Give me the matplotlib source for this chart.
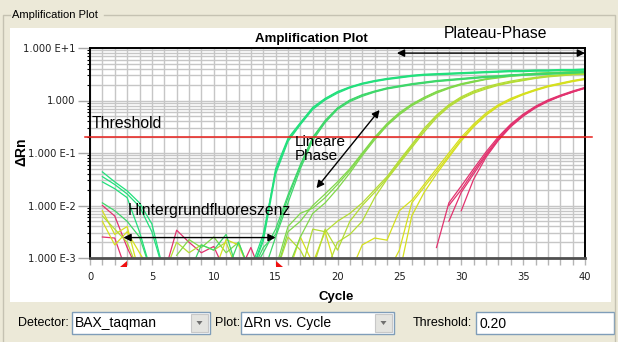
import numpy as np
import matplotlib
matplotlib.use('Agg')
import matplotlib.pyplot as plt
from matplotlib.patches import Rectangle, Polygon
from matplotlib.ticker import MultipleLocator, LogLocator, NullFormatter
from matplotlib.transforms import blended_transform_factory

plt.rcParams['font.family'] = ['Liberation Sans', 'DejaVu Sans']

N = None
cycle = np.arange(1, 41)

# log10(delta Rn) per well (None = not drawn)
a1 = [-1.36, -1.55, -1.72, -1.95, -2.35, -3.3] + [N] * 6 + [
    -3.3, -2.62, -1.3, -0.72, -0.42, -0.13, 0.04, 0.17, 0.26, 0.33, 0.38, 0.42, 0.45, 0.48,
    0.5, 0.51, 0.52, 0.53, 0.54, 0.55, 0.56, 0.57, 0.57, 0.58, 0.58, 0.59, 0.59, 0.6]
a2 = [-1.45, -1.6, -1.78, -2.02, -2.5, -3.3] + [N] * 6 + [
    -3.2, -2.55, -1.35, -0.75, -0.44, -0.15, 0.03, 0.16, 0.25, 0.32, 0.37, 0.41, 0.44, 0.47,
    0.49, 0.5, 0.51, 0.52, 0.53, 0.54, 0.55, 0.56, 0.56, 0.57, 0.57, 0.58, 0.58, 0.59]
a3 = [-1.55, -1.68, -1.85, -2.5, -3.3] + [N] * 7 + [
    -3.3, -2.68, -1.4, -0.78, -0.46, -0.17, 0.01, 0.14, 0.24, 0.31, 0.36, 0.4, 0.43, 0.46,
    0.48, 0.49, 0.5, 0.51, 0.52, 0.53, 0.54, 0.55, 0.55, 0.56, 0.56, 0.57, 0.57, 0.58]

b1 = [-1.95, -2.1, -2.3, -2.6, -3.3] + [N] * 5 + [
    -3.3, -2.7, -3.3, -2.8, -2.55, -1.85, -1.25, -0.72, -0.4, -0.15, 0.0, 0.1, 0.17, 0.23,
    0.27, 0.31, 0.34, 0.37, 0.39, 0.41, 0.43, 0.45, 0.46, 0.48, 0.49, 0.5, 0.51, 0.52, 0.53, 0.54]
b2 = [N] * 7 + [-3.3, -2.75, -2.85, -2.55, -3.3, -3.3,
    -2.9, -2.45, -1.8, -1.22, -0.7, -0.38, -0.14, 0.01, 0.11, 0.18, 0.24, 0.28, 0.32, 0.35,
    0.38, 0.4, 0.42, 0.44, 0.46, 0.47, 0.49, 0.5, 0.51, 0.52, 0.53, 0.54, 0.55]
b3 = [N] * 13 + [
    -3.3, -2.6, -1.95, -1.3, -0.76, -0.42, -0.17, -0.02, 0.08, 0.16, 0.22, 0.26, 0.3, 0.33,
    0.36, 0.38, 0.4, 0.42, 0.44, 0.45, 0.47, 0.48, 0.49, 0.5, 0.51, 0.52, 0.53]

c1 = [N] * 14 + [
    -3.2, -2.4, -2.15, -2.05, -1.85, -1.6, -1.33, -1.02, -0.72, -0.46, -0.25, -0.08, 0.05,
    0.16, 0.24, 0.31, 0.36, 0.41, 0.44, 0.47, 0.49, 0.51, 0.52, 0.53, 0.54, 0.55]
c2 = [N] * 14 + [
    -3.3, -2.5, -2.3, -2.0, -1.78, -1.55, -1.3, -1.0, -0.7, -0.44, -0.23, -0.07, 0.06,
    0.17, 0.25, 0.32, 0.37, 0.41, 0.45, 0.48, 0.5, 0.52, 0.53, 0.54, 0.55, 0.56]
c3 = [N] * 15 + [
    -3.2, -2.6, -2.15, -1.95, -1.68, -1.38, -1.05, -0.75, -0.48, -0.27, -0.1, 0.03, 0.14,
    0.23, 0.3, 0.35, 0.4, 0.43, 0.46, 0.48, 0.5, 0.51, 0.52, 0.53, 0.54]

d1 = [N] * 16 + [
    -3.3, -2.45, -2.5, -2.3, -2.15, -1.95, -1.7, -1.45, -1.14, -0.84, -0.53, -0.28, -0.08,
    0.07, 0.18, 0.26, 0.32, 0.37, 0.41, 0.44, 0.47, 0.49, 0.51, 0.52]
d2 = [N] * 17 + [
    -3.2, -2.45, -2.85, -2.3, -2.0, -1.75, -1.48, -1.17, -0.87, -0.56, -0.3, -0.1, 0.05,
    0.16, 0.24, 0.3, 0.35, 0.39, 0.43, 0.46, 0.48, 0.5, 0.51]
d3 = [N] * 18 + [
    -3.3, -2.7, -2.55, -2.3, -1.85, -1.5, -1.2, -0.9, -0.6, -0.33, -0.12, 0.03, 0.14,
    0.22, 0.29, 0.34, 0.38, 0.42, 0.45, 0.47, 0.49, 0.5]

e1 = [N] * 20 + [
    -3.3, -2.75, -2.62, -2.66, -2.1, -1.9, -1.6, -1.3, -1.0, -0.7, -0.45, -0.24, -0.08,
    0.04, 0.13, 0.21, 0.28, 0.33, 0.38, 0.42]
e2 = [N] * 23 + [
    -3.3, -2.85, -1.95, -1.65, -1.35, -1.05, -0.74, -0.48, -0.27, -0.1, 0.02, 0.12, 0.2,
    0.27, 0.32, 0.37, 0.41]
e3 = [N] * 24 + [
    -3.3, -2.2, -1.75, -1.4, -1.08, -0.77, -0.5, -0.28, -0.11, 0.01, 0.11, 0.19, 0.26,
    0.31, 0.36, 0.4]

f1 = [N] * 27 + [-2.8, -1.95, -1.63, -1.3, -0.98, -0.69, -0.45, -0.26, -0.11, 0.01, 0.1, 0.18, 0.25]
f2 = [N] * 28 + [-2.0, -1.7, -1.35, -1.02, -0.72, -0.47, -0.28, -0.12, 0.0, 0.09, 0.17, 0.24]
f3 = [N] * 29 + [-2.1, -1.5, -1.08, -0.76, -0.5, -0.3, -0.14, -0.02, 0.08, 0.16, 0.23]
f4 = [N] * 28 + [-2.3, -1.75, -1.4, -1.05, -0.74, -0.48, -0.29, -0.13, -0.01, 0.08, 0.16, 0.24]

# background noise before the rise
p1 = [-2.0, -2.2, -2.8, -3.3] + [N] * 36
p2 = [-2.6, -2.62, -3.3] + [N] * 37
p3 = [N] * 5 + [-3.3, -2.47, -2.7, -2.9, -2.78, -3.3] + [N] * 29
p4 = [N] * 11 + [-3.3, -2.8, -3.4] + [N] * 26
y1 = [-2.1, -2.55, -2.4, -3.3] + [N] * 36
y2 = [-2.3, -2.75, -2.5, -2.9, -3.3] + [N] * 35
y3 = [-2.2, -2.45, -2.7, -3.3] + [N] * 36
n1 = [N] * 5 + [-3.3, -2.7, -2.9, -2.75, -2.85, -2.7, -3.3] + [N] * 28
n2 = [N] * 6 + [-2.95, -2.65, -2.8, -2.6, -2.9, -2.7, -3.3] + [N] * 27
n3 = [N] * 9 + [-3.3, -2.65, -2.75, -3.3] + [N] * 27
n5 = [N] * 14 + [-3.3, -2.6, -2.85, -3.3] + [N] * 22
n6 = [N] * 15 + [-3.3, -2.6, -3.1, -2.5, -3.3] + [N] * 20

col_a, col_b, col_c = '#22E07C', '#3ED76A', '#80D84A'
col_d, col_e, col_f = '#B4DC34', '#D6E01E', '#E2336F'

wells = [
    (p1, col_f), (p2, col_f), (p3, col_f), (p4, col_f),
    (y1, col_e), (y2, col_e), (y3, col_d),
    (n1, col_d), (n2, col_c), (n3, col_e), (n5, col_d), (n6, col_e),
    (f1, col_f), (f2, col_f), (f3, col_f), (f4, col_f),
    (e1, col_e), (e2, col_e), (e3, col_e),
    (d1, col_d), (d2, col_d), (d3, col_d),
    (c1, col_c), (c2, col_c), (c3, col_c),
    (b1, col_b), (b2, col_b), (b3, col_b),
    (a1, col_a), (a2, col_a), (a3, col_a),
]

threshold = 0.2
baseline = [3, 15]

W, H = 618, 342
fig = plt.figure(figsize=(W / 100, H / 100), dpi=100, facecolor='#ECE9D8')


def ftext(x, y, s, **kw):
    return fig.text(x / W, 1 - y / H, s, **kw)


# window background, group box and controls
bg = fig.add_axes([0, 0, 1, 1], zorder=0)
bg.set_xlim(0, W)
bg.set_ylim(H, 0)
bg.axis('off')
bg.add_patch(Rectangle((10, 28), 601, 274, fc='white', ec='none'))
bg.plot([10, 3, 3], [15, 15, H], color='#C5C2B2', lw=1)
bg.plot([104, 615, 615], [15, 15, H], color='#C5C2B2', lw=1)
bg.text(12, 15, 'Amplification Plot', fontsize=8, va='center', ha='left')


def combo(x0, x1, text, arrow=True):
    bg.add_patch(Rectangle((x0, 312), x1 - x0, 22, fc='white', ec='#7F9DB9', lw=1))
    bg.text(x0 + 3, 323.5, text, fontsize=10, va='center', ha='left')
    if arrow:
        bg.add_patch(Rectangle((x1 - 19, 314), 17, 18, fc='#E4E4E0', ec='#C8C8C8', lw=0.8))
        cx = x1 - 10.5
        bg.add_patch(Polygon([(cx - 3, 321), (cx + 3, 321), (cx, 325)], closed=True,
                             fc='#707070', ec='none'))


bg.text(18, 323.5, 'Detector:', fontsize=9, va='center', ha='left')
combo(72, 210, 'BAX_taqman')
bg.text(215, 323.5, 'Plot:', fontsize=9, va='center', ha='left')
combo(241, 394, '\u0394Rn vs. Cycle')
bg.text(413, 323.5, 'Threshold:', fontsize=9, va='center', ha='left')
combo(476, 614, '0.20', arrow=False)

# plot area
ax = fig.add_axes([90 / W, 1 - 258 / H, 495 / W, 210 / H], zorder=1)
ax.set_yscale('log')
ax.set_xlim(0, 40)
ax.set_ylim(1e-3, 1e1)
ax.set_facecolor('white')
ax.set_axisbelow(True)

for vals, col in wells:
    ax.plot(cycle, 10.0 ** np.array(vals, dtype=float), color=col, lw=0.9)

ax.axhline(threshold, xmin=-0.01, xmax=1.014, color='#E8201C', lw=1.1, clip_on=False, zorder=3)

ax.xaxis.set_major_locator(MultipleLocator(5))
ax.xaxis.set_minor_locator(MultipleLocator(1))
ax.set_yticks([1e-3, 1e-2, 1e-1, 1, 10])
ax.set_yticklabels(['1.000 E-3', '1.000 E-2', '1.000 E-1', '1.000', '1.000 E+1'])
ax.yaxis.set_minor_locator(LogLocator(base=10, subs=range(2, 10), numticks=20))
ax.yaxis.set_minor_formatter(NullFormatter())
ax.grid(which='both', color='#C6C6C6', lw=1.0)

ax.tick_params(axis='y', which='major', length=9, width=1, color='#A8A8A8',
               labelsize=7.2, pad=1.5)
ax.tick_params(axis='y', which='minor', length=2.5, width=0.8, color='black')
ax.tick_params(axis='x', which='both', length=5, width=1, color='#B4B4B4')
ax.tick_params(axis='x', which='major', labelsize=7.2, pad=5)
for lbl in ax.get_xticklabels() + ax.get_yticklabels():
    lbl.set_fontfamily('DejaVu Sans')
    lbl.set_color('#202020')

for side in ['top', 'right', 'left']:
    ax.spines[side].set_color('black')
    ax.spines[side].set_linewidth(1.4)
ax.spines['bottom'].set_color('#505050')
ax.spines['bottom'].set_linewidth(2)

# baseline markers
trans = blended_transform_factory(ax.transData, ax.transAxes)
tw, th = 0.57, 0.03
ax.add_patch(Polygon([(baseline[0] - tw, -0.045), (baseline[0], -0.045), (baseline[0], -0.045 + th)],
                     closed=True, fc='#F01010', ec='none', transform=trans, clip_on=False))
ax.add_patch(Polygon([(baseline[1], -0.045 + th), (baseline[1], -0.045), (baseline[1] + tw, -0.045)],
                     closed=True, fc='#F01010', ec='none', transform=trans, clip_on=False))

# annotations
arrow = dict(arrowstyle='<|-|>', color='black', lw=1, mutation_scale=11, shrinkA=0, shrinkB=0)
ax.annotate('', xy=(2.7, 0.00245), xytext=(15.0, 0.00245), arrowprops=arrow, zorder=4)
ax.annotate('', xy=(18.3, 0.0214), xytext=(23.4, 0.66), arrowprops=arrow, zorder=4)
ax.annotate('', xy=(24.8, 8.0), xytext=(40, 8.0), arrowprops=arrow, zorder=4, annotation_clip=False)

ax.text(0.16, 0.37, 'Threshold', fontsize=11.3, va='center', ha='left', zorder=5)
ax.text(3.07, 0.0082, 'Hintergrundfluoreszenz', fontsize=11.3, va='center', ha='left', zorder=5)
ax.text(16.57, 0.165, 'Lineare', fontsize=11, va='center', ha='left', zorder=5)
ax.text(16.57, 0.088, 'Phase', fontsize=11, va='center', ha='left', zorder=5)

ftext(444, 33, 'Plateau-Phase', fontsize=11.3, va='center', ha='left')
ftext(311, 39, 'Amplification Plot', fontsize=9.5, fontweight='bold', va='center', ha='center')
ftext(336, 297, 'Cycle', fontsize=9.5, fontweight='bold', va='center', ha='center')
ftext(22, 152, '\u0394Rn', fontsize=10, fontweight='bold', va='center', ha='center', rotation=90)

fig.savefig('out.png', dpi=100, facecolor=fig.get_facecolor())
